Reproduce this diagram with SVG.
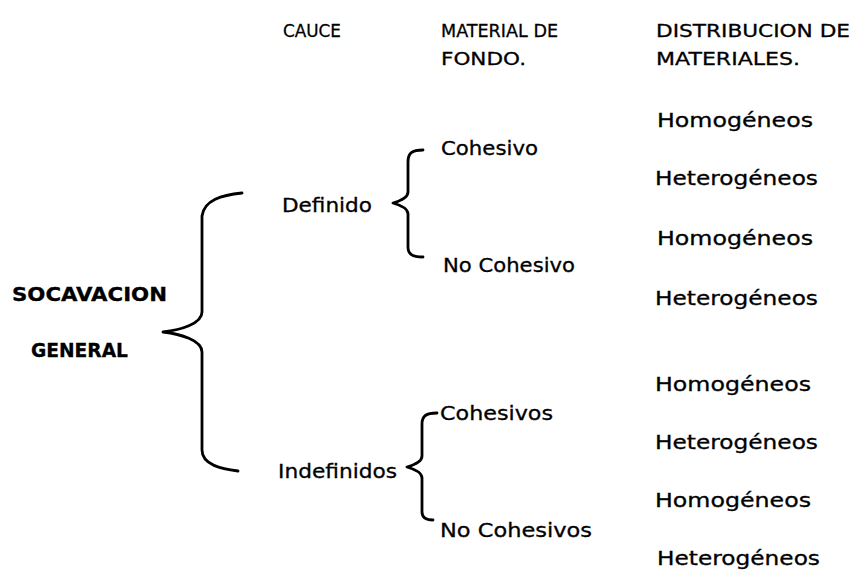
<svg xmlns="http://www.w3.org/2000/svg" width="854" height="575" viewBox="0 0 854 575">
<style>
text{font-family:"DejaVu Sans","Liberation Sans",sans-serif;fill:#000;stroke:#000;stroke-width:0.3}
.h{font-size:18.5px}
.t{font-size:19.5px}
.b{font-size:19.5px;font-weight:bold}
.br{fill:none;stroke:#000;stroke-width:2.8;stroke-linecap:round;stroke-linejoin:round}
</style>
<rect width="854" height="575" fill="#fff"/>
<g id="headers">
<text class="h" x="283" y="37" textLength="58" lengthAdjust="spacingAndGlyphs">CAUCE</text>
<text class="h" x="441" y="37" textLength="117" lengthAdjust="spacingAndGlyphs">MATERIAL DE</text>
<text class="h" x="441" y="65" textLength="85" lengthAdjust="spacingAndGlyphs">FONDO.</text>
<text class="h" x="656" y="37" textLength="194" lengthAdjust="spacingAndGlyphs">DISTRIBUCION DE</text>
<text class="h" x="656" y="65" textLength="144" lengthAdjust="spacingAndGlyphs">MATERIALES.</text>
</g>
<g id="root"><text class="b" x="12" y="301" textLength="155" lengthAdjust="spacingAndGlyphs">SOCAVACION</text><text class="b" x="31" y="357" textLength="97" lengthAdjust="spacingAndGlyphs">GENERAL</text></g>
<g id="definido"><text class="t" x="282" y="212" textLength="90" lengthAdjust="spacingAndGlyphs">Definido</text></g>
<g id="indefinidos"><text class="t" x="278" y="478" textLength="119" lengthAdjust="spacingAndGlyphs">Indefinidos</text></g>
<g id="cohesivo"><text class="t" x="441" y="155" textLength="97" lengthAdjust="spacingAndGlyphs">Cohesivo</text></g>
<g id="nocohesivo"><text class="t" x="443" y="272" textLength="132" lengthAdjust="spacingAndGlyphs">No Cohesivo</text></g>
<g id="cohesivos"><text class="t" x="440" y="420" textLength="113" lengthAdjust="spacingAndGlyphs">Cohesivos</text></g>
<g id="nocohesivos"><text class="t" x="440" y="537" textLength="152" lengthAdjust="spacingAndGlyphs">No Cohesivos</text></g>
<g id="dist">
<text class="t" x="657" y="127" textLength="156" lengthAdjust="spacingAndGlyphs">Homogéneos</text>
<text class="t" x="655" y="185" textLength="163" lengthAdjust="spacingAndGlyphs">Heterogéneos</text>
<text class="t" x="657" y="245" textLength="156" lengthAdjust="spacingAndGlyphs">Homogéneos</text>
<text class="t" x="655" y="305" textLength="163" lengthAdjust="spacingAndGlyphs">Heterogéneos</text>
<text class="t" x="655" y="391" textLength="156" lengthAdjust="spacingAndGlyphs">Homogéneos</text>
<text class="t" x="655" y="449" textLength="163" lengthAdjust="spacingAndGlyphs">Heterogéneos</text>
<text class="t" x="655" y="507" textLength="156" lengthAdjust="spacingAndGlyphs">Homogéneos</text>
<text class="t" x="657" y="565" textLength="163" lengthAdjust="spacingAndGlyphs">Heterogéneos</text>
</g>
<g id="connectors">
<path class="br" d="M242,193 C222,195 204,200 202,216 L202,312 C202,324 180,330 163,332 C180,334 202,340 202,352 L202,450 C202,465 222,469 238,471"/>
<path class="br" d="M423,150 C412,150 408,153 408,162 L408,192 C408,198 400,201 393,203 C400,205 408,208 408,214 L408,247 C408,254 412,257 423,257"/>
<path class="br" d="M437,413 C426,413 422,416 422,424 L422,456 C422,462 414,465 407,467 C414,469 422,472 422,478 L422,512 C422,518 426,520 433,520"/>
</g>
</svg>
